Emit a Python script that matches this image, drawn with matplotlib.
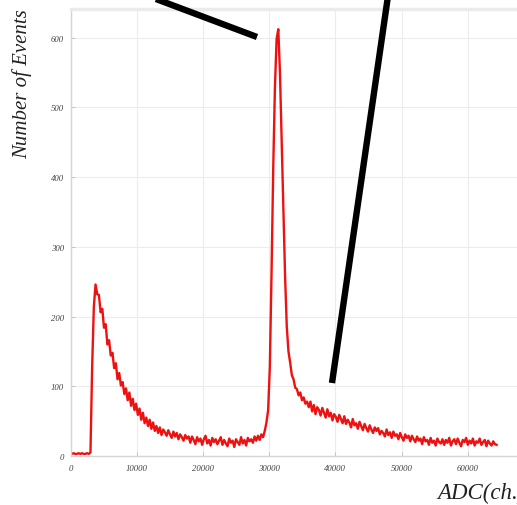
import numpy as np
import matplotlib
matplotlib.use("Agg")
import matplotlib.pyplot as plt
from matplotlib.lines import Line2D

# ADC spectrum: 256-channel-wide bins starting at 0
bin_width = 256
counts = [
    3, 4, 3, 3, 4, 3, 4, 3, 3, 4, 3, 5,
    128, 214, 246, 232, 231, 206, 211, 184, 189, 160, 166, 144, 148, 126, 133, 110, 119, 101,
    106, 89, 97, 80, 91, 72, 82, 66, 75, 59, 68, 52, 62, 47, 55, 43, 52, 39, 48, 36,
    43, 33, 41, 30, 38, 34, 29, 37, 31, 26, 35, 28, 33, 24, 31, 27, 22, 30, 25, 28,
    19, 28, 23, 17, 27, 21, 25, 16, 24, 29, 18, 23, 15, 26, 20, 24, 17, 22, 27, 16,
    23, 18, 14, 25, 19, 22, 13, 24, 20, 16, 27, 18, 23, 15, 26, 21, 24, 19, 28, 22,
    29, 23, 31, 27, 36, 48, 66,
    128, 262, 412, 528, 598, 612, 548, 452, 352, 258, 186, 150, 134, 116, 110, 98, 96, 87, 91, 80, 84, 75, 78, 70,
    78, 64, 73, 60, 70, 66, 58, 69, 62, 55, 67, 57, 62, 51, 60, 56, 49, 59, 53, 47,
    57, 46, 52, 48, 41, 53, 44, 47, 39, 49, 43, 37, 46, 40, 35, 44, 38, 33, 41, 36,
    40, 31, 36, 33, 28, 38, 30, 34, 26, 35, 29, 31, 24, 33, 27, 22, 31, 26, 29, 21,
    29, 24, 20, 28, 22, 25, 17, 27, 21, 23, 16, 26, 19, 22, 15, 25, 20, 18, 24, 16,
    23, 19, 26, 15, 21, 24, 17, 25, 19, 14, 23, 20, 26, 16, 22, 18, 25, 15, 21, 19,
    25, 16, 20, 23, 14, 22, 18, 15, 21, 17, 16,
]
x_ticks = [0, 10000, 20000, 30000, 40000, 50000, 60000]
y_ticks = [0, 100, 200, 300, 400, 500, 600]
x_label = "ADC(ch.)"
y_label = "Number of Events"

centers = (np.arange(len(counts)) + 0.5) * bin_width

W, H = 517, 506
fig = plt.figure(figsize=(W / 100, H / 100), dpi=100)
fig.patch.set_facecolor("white")

ax = fig.add_axes([71 / W, 1 - 457 / H, (W - 71) / W, (457 - 10) / H])
ax.plot(centers, counts, color="#ee1111", lw=1.7)

ax.set_xlim(0, 67470)
ax.set_ylim(0, 641)
ax.set_xticks(x_ticks)
ax.set_yticks(y_ticks)
ax.set_xticklabels([str(v) for v in x_ticks])
ax.set_yticklabels([str(v) for v in y_ticks])

serif = "Liberation Serif"
for lab in ax.get_xticklabels() + ax.get_yticklabels():
    lab.set_fontfamily(serif)
    lab.set_fontstyle("italic")
    lab.set_fontsize(6.3)
    lab.set_color("#444444")

ax.tick_params(axis="both", direction="in", length=3, width=0.6, color="#bbbbbb")
ax.tick_params(axis="x", pad=6)
ax.tick_params(axis="y", pad=5)
ax.grid(True, color="#ececec", lw=0.8)
ax.set_axisbelow(True)
for side in ["left", "bottom", "top"]:
    ax.spines[side].set_color("#d5d5d5")
    ax.spines[side].set_linewidth(1.0)
ax.spines["top"].set_linewidth(2.5)
ax.spines["top"].set_color("#ebebeb")
ax.spines["right"].set_visible(False)

fig.text(22 / W, 1 - 9 / H, y_label, rotation=90, ha="center", va="top",
         fontfamily=serif, fontstyle="italic", fontsize=15, color="#222222")
fig.text(437 / W, 1 - 493 / H, x_label, ha="left", va="center",
         fontfamily=serif, fontstyle="italic", fontsize=16.5, color="#222222")

# pointer strokes over the spectrum
for (x0, y0), (x1, y1) in [((148, -3), (257, 38)), ((388, -3), (332, 384))]:
    fig.add_artist(Line2D([x0 / W, x1 / W], [1 - y0 / H, 1 - y1 / H],
                          transform=fig.transFigure, color="black", lw=4.6,
                          solid_capstyle="butt"))

fig.savefig("out.png", dpi=100)
